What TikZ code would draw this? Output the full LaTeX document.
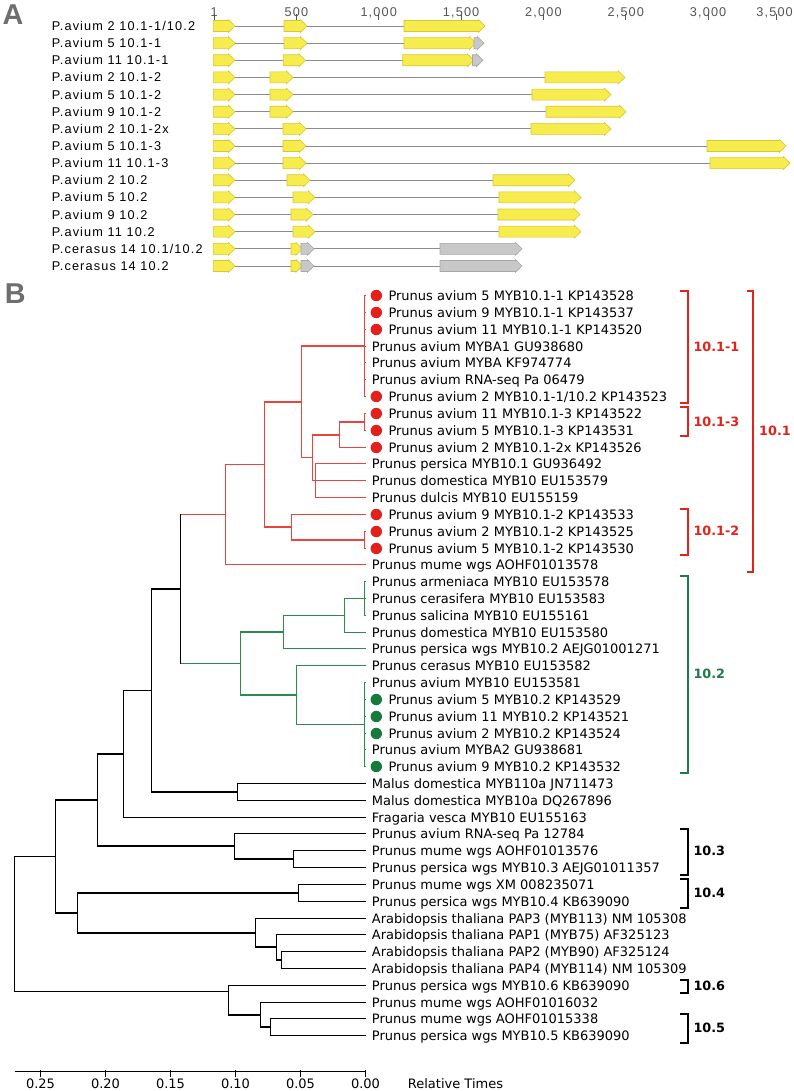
\documentclass[tikz,border=0pt]{standalone}
\usepackage{fontspec}
\setmainfont{DejaVu Sans}
\newfontfamily\genefont[LetterSpace=9]{Liberation Sans}
\newfontfamily\panelfont{Liberation Sans}
\usetikzlibrary{calc}
\definecolor{tred}{HTML}{E8453C}
\definecolor{bred}{HTML}{E2231A}
\definecolor{dred}{HTML}{E3201B}
\definecolor{tgreen}{HTML}{2F8A52}
\definecolor{bgreen}{HTML}{1E7B45}
\definecolor{dgreen}{HTML}{167A3B}
\definecolor{exony}{HTML}{F7EC4E}
\definecolor{exonyd}{HTML}{D8C72E}
\definecolor{exong}{HTML}{C8C8C8}
\definecolor{exongd}{HTML}{A6A6A6}
\definecolor{lblgray}{HTML}{6E6E6E}
\definecolor{axgray}{HTML}{555555}
\definecolor{intr}{HTML}{8C8C8C}

\newcommand\exon[4]{\filldraw[#4] (#1,#3-5.5) -- (#2-6.5,#3-5.5) -- (#2-6.5,#3-6.3) -- (#2,#3) -- (#2-6.5,#3+6.3) -- (#2-6.5,#3+5.5) -- (#1,#3+5.5) -- cycle;}
\newcommand\generow[4]{%
  \node[glab] (#1) at (51.7,#2) {#3};
  \draw[intron] (235,#2) -- (#4,#2);
  \exon{213.3}{235}{#2}{yx}}
\newcommand\lfp[2]{\pgfmathsetmacro\ly{floor(295.7+16.82*(#1-1))+0.5}%
  \coordinate (t#1) at (365.5,\ly);
  \node[leaf] (L#1) at (371.7,\ly) {#2};}
\newcommand\lfd[3]{\pgfmathsetmacro\ly{floor(295.7+16.82*(#1-1))+0.5}%
  \coordinate (t#1) at (365.5,\ly);
  \node[leafdot,fill=#2] (D#1) at (376.3,\ly) {};
  \node[leaf] (L#1) at (388.3,\ly) {#3};}
% internal node: name, x, first child, last child
\newcommand\inode[4]{\coordinate (#1) at ($(#3)!0.5!(#4)$); \coordinate (#1) at (#2,0 |- #1);}
\newcommand\kid[3]{\draw[#1] (#2 |- #3) -- (#3);}
\newcommand\clade[4]{\draw[#1] (#2 |- #3) -- (#2 |- #4);}

\begin{document}
\begin{tikzpicture}[x=1bp,y=-1bp,
  glab/.style={anchor=west,inner sep=0pt,text height=9.1bp,text depth=0pt,font=\genefont\fontsize{12.7bp}{14bp}\selectfont},
  alab/.style={inner sep=0pt,text height=9.1bp,text depth=0pt,text=axgray,font=\genefont\fontsize{12.7bp}{14bp}\selectfont},
  intron/.style={draw=intr,line width=0.9bp},
  yx/.style={fill=exony,draw=exonyd,line width=0.6bp},
  gx/.style={fill=exong,draw=exongd,line width=0.6bp},
  leaf/.style={anchor=west,inner sep=0pt,text height=9.5bp,text depth=0pt,font=\fontsize{13bp}{15bp}\selectfont},
  leafdot/.style={circle,inner sep=0pt,minimum size=11.4bp,draw=none},
  rb/.style={draw=tred,line width=1.7bp,line cap=rect},
  gb/.style={draw=tgreen,line width=1.7bp,line cap=rect},
  kb/.style={draw=black,line width=1.8bp,line cap=rect},
  brk/.style={line width=1.8bp},
  blab/.style={anchor=west,inner sep=0pt,text height=9.3bp,text depth=0pt,font=\bfseries\fontsize{12.8bp}{15bp}\selectfont},
  plab/.style={anchor=base west,inner sep=0pt,text=lblgray,font=\panelfont\bfseries\fontsize{28.7bp}{30bp}\selectfont},
  tlab/.style={inner sep=0pt,text height=9.5bp,text depth=0pt,font=\fontsize{13bp}{15bp}\selectfont}
]
\useasboundingbox (0,0) rectangle (794,1091);
\fill[white] (0,0) rectangle (794,1091);

% ---------------- Panel A ----------------
\node[plab] (pA) at (2.5,24) {A};
\foreach \n/\x/\t in {n1/214.2/1,n500/296.4/500,n1000/378.7/{1,000},n1500/461.1/{1,500},n2000/543.4/{2,000},n2500/625.8/{2,500},n3000/708.1/{3,000}}{
  \node[alab] (\n) at (\x,12) {\t};
  \draw[axgray,line width=0.7bp] (\x,14) -- (\x,19.5);
}
\node[alab,anchor=east] (n3500) at (793,12) {3,500};
\draw[axgray,line width=0.7bp] (776,14) -- (776,19.5);

\generow{a0}{26.00}{P.avium 2 10.1-1/10.2}{404}
\exon{284}{307}{26.00}{yx} \exon{404}{485}{26.00}{yx}
\generow{a1}{43.14}{P.avium 5 10.1-1}{404}
\exon{284}{307}{43.14}{yx} \exon{404}{476}{43.14}{yx} \exon{474}{484}{43.14}{gx}
\generow{a2}{60.28}{P.avium 11 10.1-1}{402.7}
\exon{283.3}{305.5}{60.28}{yx} \exon{402.7}{474}{60.28}{yx} \exon{472.5}{483}{60.28}{gx}
\generow{a3}{77.42}{P.avium 2 10.1-2}{545}
\exon{270}{293}{77.42}{yx} \exon{545}{625}{77.42}{yx}
\generow{a4}{94.56}{P.avium 5 10.1-2}{532}
\exon{270}{293}{94.56}{yx} \exon{532}{611}{94.56}{yx}
\generow{a5}{111.70}{P.avium 9 10.1-2}{546}
\exon{270}{293}{111.70}{yx} \exon{546}{626}{111.70}{yx}
\generow{a6}{128.84}{P.avium 2 10.1-2x}{531}
\exon{283}{306}{128.84}{yx} \exon{531}{611}{128.84}{yx}
\generow{a7}{145.98}{P.avium 5 10.1-3}{707}
\exon{283}{306}{145.98}{yx} \exon{707}{786}{145.98}{yx}
\generow{a8}{163.12}{P.avium 11 10.1-3}{710}
\exon{283}{306}{163.12}{yx} \exon{710}{790}{163.12}{yx}
\generow{a9}{180.26}{P.avium 2 10.2}{493}
\exon{287}{310}{180.26}{yx} \exon{493}{575}{180.26}{yx}
\generow{a10}{197.40}{P.avium 5 10.2}{499}
\exon{293}{315}{197.40}{yx} \exon{499}{581}{197.40}{yx}
\generow{a11}{214.54}{P.avium 9 10.2}{498}
\exon{291}{313}{214.54}{yx} \exon{498}{580}{214.54}{yx}
\generow{a12}{231.68}{P.avium 11 10.2}{499}
\exon{293}{315}{231.68}{yx} \exon{499}{581}{231.68}{yx}
\generow{a13}{248.82}{P.cerasus 14 10.1/10.2}{440}
\exon{291}{302.5}{248.82}{yx} \exon{301}{314}{248.82}{gx} \exon{440}{522}{248.82}{gx}
\generow{a14}{265.96}{P.cerasus 14 10.2}{440}
\exon{291}{302.5}{265.96}{yx} \exon{301}{314}{265.96}{gx} \exon{440}{522}{265.96}{gx}

% ---------------- Panel B ----------------
\node[plab] (pB) at (4.6,303.3) {B};

\lfd{1}{dred}{Prunus avium 5 MYB10.1-1 KP143528}
\lfd{2}{dred}{Prunus avium 9 MYB10.1-1 KP143537}
\lfd{3}{dred}{Prunus avium 11 MYB10.1-1 KP143520}
\lfp{4}{Prunus avium MYBA1 GU938680}
\lfp{5}{Prunus avium MYBA KF974774}
\lfp{6}{Prunus avium RNA-seq Pa 06479}
\lfd{7}{dred}{Prunus avium 2 MYB10.1-1/10.2 KP143523}
\lfd{8}{dred}{Prunus avium 11 MYB10.1-3 KP143522}
\lfd{9}{dred}{Prunus avium 5 MYB10.1-3 KP143531}
\lfd{10}{dred}{Prunus avium 2 MYB10.1-2x KP143526}
\lfp{11}{Prunus persica MYB10.1 GU936492}
\lfp{12}{Prunus domestica MYB10 EU153579}
\lfp{13}{Prunus dulcis MYB10 EU155159}
\lfd{14}{dred}{Prunus avium 9 MYB10.1-2 KP143533}
\lfd{15}{dred}{Prunus avium 2 MYB10.1-2 KP143525}
\lfd{16}{dred}{Prunus avium 5 MYB10.1-2 KP143530}
\lfp{17}{Prunus mume wgs AOHF01013578}
\lfp{18}{Prunus armeniaca MYB10 EU153578}
\lfp{19}{Prunus cerasifera MYB10 EU153583}
\lfp{20}{Prunus salicina MYB10 EU155161}
\lfp{21}{Prunus domestica MYB10 EU153580}
\lfp{22}{Prunus persica wgs MYB10.2 AEJG01001271}
\lfp{23}{Prunus cerasus MYB10 EU153582}
\lfp{24}{Prunus avium MYB10 EU153581}
\lfd{25}{dgreen}{Prunus avium 5 MYB10.2 KP143529}
\lfd{26}{dgreen}{Prunus avium 11 MYB10.2 KP143521}
\lfd{27}{dgreen}{Prunus avium 2 MYB10.2 KP143524}
\lfp{28}{Prunus avium MYBA2 GU938681}
\lfd{29}{dgreen}{Prunus avium 9 MYB10.2 KP143532}
\lfp{30}{Malus domestica MYB110a JN711473}
\lfp{31}{Malus domestica MYB10a DQ267896}
\lfp{32}{Fragaria vesca MYB10 EU155163}
\lfp{33}{Prunus avium RNA-seq Pa 12784}
\lfp{34}{Prunus mume wgs AOHF01013576}
\lfp{35}{Prunus persica wgs MYB10.3 AEJG01011357}
\lfp{36}{Prunus mume wgs XM 008235071}
\lfp{37}{Prunus persica wgs MYB10.4 KB639090}
\lfp{38}{Arabidopsis thaliana PAP3 (MYB113) NM 105308}
\lfp{39}{Arabidopsis thaliana PAP1 (MYB75) AF325123}
\lfp{40}{Arabidopsis thaliana PAP2 (MYB90) AF325124}
\lfp{41}{Arabidopsis thaliana PAP4 (MYB114) NM 105309}
\lfp{42}{Prunus persica wgs MYB10.6 KB639090}
\lfp{43}{Prunus mume wgs AOHF01016032}
\lfp{44}{Prunus mume wgs AOHF01015338}
\lfp{45}{Prunus persica wgs MYB10.5 KB639090}

% internal nodes (x, first child, last child)
\inode{nc1}{364.5}{t1}{t7}
\inode{nc89}{364.5}{t8}{t9}
\inode{nC}{339.5}{nc89}{t10}
\inode{nD}{315.5}{t11}{t13}
\inode{nB}{312.5}{nC}{nD}
\inode{nA}{301.5}{nc1}{nB}
\inode{nG}{364.5}{t15}{t16}
\inode{nF}{291.5}{t14}{nG}
\inode{nE}{264.5}{nA}{nF}
\inode{nH}{225.5}{nE}{t17}
\inode{nN}{364.5}{t18}{t20}
\inode{nM}{344.5}{nN}{t21}
\inode{nK}{283.5}{nM}{t22}
\inode{nO}{364.5}{t24}{t29}
\inode{nL}{296.5}{t23}{nO}
\inode{nJ}{240.5}{nK}{nL}
\inode{nI}{180.5}{nH}{nJ}
\inode{nP}{237.5}{t30}{t31}
\inode{nQ}{151.5}{nI}{nP}
\inode{nR}{123.5}{nQ}{t32}
\inode{nU}{293.5}{t34}{t35}
\inode{nT}{234.5}{t33}{nU}
\inode{nS}{97.5}{nR}{nT}
\inode{nX}{298.5}{t36}{t37}
\inode{nAA}{281.5}{t40}{t41}
\inode{nZ}{276.5}{t39}{nAA}
\inode{nY}{255.5}{t38}{nZ}
\inode{nW}{77.5}{nX}{nY}
\inode{nV}{55.5}{nS}{nW}
\inode{nDD}{270.5}{t44}{t45}
\inode{nCC}{260.5}{t43}{nDD}
\coordinate (nBB) at (228.5,991.5);
\inode{nroot}{14.5}{nV}{nBB}

% red clade
\clade{rb}{nc1}{t1}{t7}
\foreach \i in {1,...,7}{\kid{rb}{nc1}{t\i}}
\clade{rb}{nc89}{t8}{t9} \kid{rb}{nc89}{t8} \kid{rb}{nc89}{t9}
\clade{rb}{nC}{nc89}{t10} \kid{rb}{nC}{nc89} \kid{rb}{nC}{t10}
\clade{rb}{nD}{t11}{t13} \kid{rb}{nD}{t11} \kid{rb}{nD}{t12} \kid{rb}{nD}{t13}
\clade{rb}{nB}{nC}{nD} \kid{rb}{nB}{nC} \kid{rb}{nB}{nD}
\clade{rb}{nA}{nc1}{nB} \kid{rb}{nA}{nc1} \kid{rb}{nA}{nB}
\clade{rb}{nG}{t15}{t16} \kid{rb}{nG}{t15} \kid{rb}{nG}{t16}
\clade{rb}{nF}{t14}{nG} \kid{rb}{nF}{t14} \kid{rb}{nF}{nG}
\clade{rb}{nE}{nA}{nF} \kid{rb}{nE}{nA} \kid{rb}{nE}{nF}
\clade{rb}{nH}{nE}{t17} \kid{rb}{nH}{nE} \kid{rb}{nH}{t17}
\kid{rb}{nI}{nH}
% green clade
\clade{gb}{nN}{t18}{t20} \kid{gb}{nN}{t18} \kid{gb}{nN}{t19} \kid{gb}{nN}{t20}
\clade{gb}{nM}{nN}{t21} \kid{gb}{nM}{nN} \kid{gb}{nM}{t21}
\clade{gb}{nK}{nM}{t22} \kid{gb}{nK}{nM} \kid{gb}{nK}{t22}
\clade{gb}{nO}{t24}{t29}
\foreach \i in {24,...,29}{\kid{gb}{nO}{t\i}}
\clade{gb}{nL}{t23}{nO} \kid{gb}{nL}{t23} \kid{gb}{nL}{nO}
\clade{gb}{nJ}{nK}{nL} \kid{gb}{nJ}{nK} \kid{gb}{nJ}{nL}
\kid{gb}{nI}{nJ}
% black part
\clade{kb}{nI}{nH}{nJ}
\clade{kb}{nP}{t30}{t31} \kid{kb}{nP}{t30} \kid{kb}{nP}{t31}
\clade{kb}{nQ}{nI}{nP} \kid{kb}{nQ}{nI} \kid{kb}{nQ}{nP}
\clade{kb}{nR}{nQ}{t32} \kid{kb}{nR}{nQ} \kid{kb}{nR}{t32}
\clade{kb}{nU}{t34}{t35} \kid{kb}{nU}{t34} \kid{kb}{nU}{t35}
\clade{kb}{nT}{t33}{nU} \kid{kb}{nT}{t33} \kid{kb}{nT}{nU}
\clade{kb}{nS}{nR}{nT} \kid{kb}{nS}{nR} \kid{kb}{nS}{nT}
\clade{kb}{nX}{t36}{t37} \kid{kb}{nX}{t36} \kid{kb}{nX}{t37}
\clade{kb}{nAA}{t40}{t41} \kid{kb}{nAA}{t40} \kid{kb}{nAA}{t41}
\clade{kb}{nZ}{t39}{nAA} \kid{kb}{nZ}{t39} \kid{kb}{nZ}{nAA}
\clade{kb}{nY}{t38}{nZ} \kid{kb}{nY}{t38} \kid{kb}{nY}{nZ}
\clade{kb}{nW}{nX}{nY} \kid{kb}{nW}{nX} \kid{kb}{nW}{nY}
\clade{kb}{nV}{nS}{nW} \kid{kb}{nV}{nS} \kid{kb}{nV}{nW}
\clade{kb}{nDD}{t44}{t45} \kid{kb}{nDD}{t44} \kid{kb}{nDD}{t45}
\clade{kb}{nCC}{t43}{nDD} \kid{kb}{nCC}{t43} \kid{kb}{nCC}{nDD}
\clade{kb}{nBB}{t42}{nCC} \kid{kb}{nBB}{t42} \kid{kb}{nBB}{nCC}
\clade{kb}{nroot}{nV}{nBB} \kid{kb}{nroot}{nV} \kid{kb}{nroot}{nBB}

% brackets
\draw[brk,bred] (680,290.7) -- (688.3,290.7) -- (688.3,403.3) -- (680,403.3);
\node[blab,text=bred] (g1) at (693.3,347.3) {10.1-1};
\draw[brk,bred] (680,407.3) -- (688.3,407.3) -- (688.3,436) -- (680,436);
\node[blab,text=bred] (g3) at (693.3,421.7) {10.1-3};
\draw[brk,bred] (680,509) -- (688.3,509) -- (688.3,555) -- (680,555);
\node[blab,text=bred] (g2) at (693.3,531) {10.1-2};
\draw[brk,bred] (746.7,290.7) -- (753.3,290.7) -- (753.3,571.7) -- (746.7,571.7);
\node[blab,text=bred] (g101) at (759,431) {10.1};
\draw[brk,bgreen] (680,576) -- (688.3,576) -- (688.3,773.3) -- (680,773.3);
\node[blab,text=bgreen] (g102) at (693.3,674) {10.2};
\draw[brk] (680,829) -- (688.3,829) -- (688.3,875) -- (680,875);
\node[blab] (g103) at (693.3,851) {10.3};
\draw[brk] (680,879) -- (688.3,879) -- (688.3,908.3) -- (680,908.3);
\node[blab] (g104) at (693.3,893.3) {10.4};
\draw[brk] (680,980) -- (688.3,980) -- (688.3,992.7) -- (680,992.7);
\node[blab] (g106) at (693.3,985.7) {10.6};
\draw[brk] (680,1014) -- (688.3,1014) -- (688.3,1043.3) -- (680,1043.3);
\node[blab] (g105) at (693.3,1027.7) {10.5};

% axis
\coordinate (ax0) at (14.5,1071.5);
\coordinate (ax1) at (365.5,1071.5);
\draw[kb,line cap=butt] (ax0) -- (ax1);
\foreach \v/\n in {0.25/s25,0.20/s20,0.15/s15,0.10/s10,0.05/s05,0.00/s00}{
  \pgfmathsetmacro\tx{floor(365.7-1300*\v)+0.5}
  \draw[black,line width=1.8bp] (\tx,1069.5) -- (\tx,1077);
  \node[tlab] (\n) at (\tx,1083.3) {\v};
}
\node[tlab,anchor=west] (rt) at (407.7,1083.3) {Relative Times};
\end{tikzpicture}
\end{document}
